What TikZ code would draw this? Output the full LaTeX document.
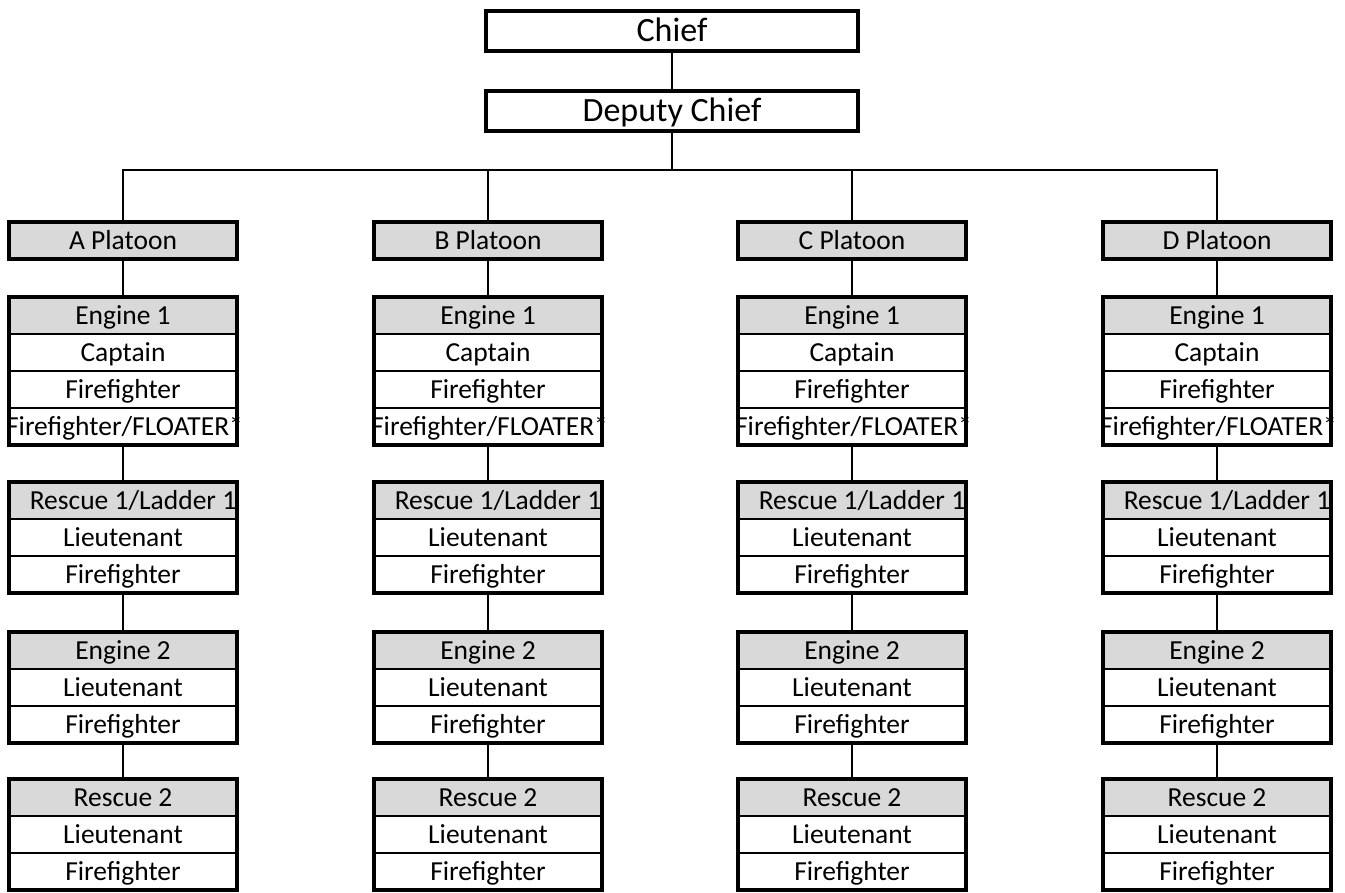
\documentclass[tikz,border=0pt]{standalone}
\usepackage{fontspec}
\setmainfont{Carlito}
\usetikzlibrary{fit}
\definecolor{hdrgray}{HTML}{D9D9D9}
\tikzset{
  rowfont/.style={font=\fontsize{27.5}{32}\selectfont, text height=20pt, text depth=2.3pt},
  rowbox/.style={draw=black, line width=1.5pt, minimum width=228pt, minimum height=37pt,
    inner sep=0pt, outer sep=0pt, anchor=north, rowfont},
  hdrbox/.style={rowbox, fill=hdrgray},
  overtext/.style={inner sep=0pt, rowfont},
  grpbox/.style={draw=black, line width=3.5pt, inner sep=0pt},
  platbox/.style={hdrbox, line width=3.5pt},
  topbox/.style={draw=black, line width=3.5pt, minimum width=372pt, minimum height=40pt,
    inner sep=0pt, font=\fontsize{34}{40}\selectfont, text height=24pt, text depth=2pt},
  link/.style={line width=2.8pt, line join=miter}
}
\begin{document}
\begin{tikzpicture}[x=1pt,y=-1pt]
\useasboundingbox (0,0) rectangle (1345,893);
\node[topbox] (chief) at (672,31) {Chief};
\node[topbox] (deputy) at (672,111) {Deputy Chief};
\coordinate (bar) at (672,170);
\draw[link] (chief) -- (deputy);
\draw[link] (deputy) -- (bar);
\foreach \c/\x in {A/123,B/488,C/852,D/1217} {
  \coordinate (\c-t) at (\x,170);
  \node[platbox] (\c-p) at (\x,222) {\c\ Platoon};
  % Engine 1
  \node[hdrbox] (\c-e1h) at (\x,297) {Engine 1};
  \node[rowbox] (\c-e1a) at (\x,334) {Captain};
  \node[rowbox] (\c-e1b) at (\x,371) {Firefighter};
  \node[rowbox] (\c-e1c) at (\x,408) {};
  \node[grpbox, fit=(\c-e1h)(\c-e1c)] (\c-e1) {};
  \node[overtext] (\c-e1ct) at ([xshift=1.5pt]\c-e1c.center) {Firefighter/FLOATER*};
  % Rescue 1 / Ladder 1
  \node[hdrbox] (\c-r1h) at (\x,482) {\makebox[0pt][c]{\hspace*{20pt}Rescue 1/Ladder 1}};
  \node[rowbox] (\c-r1a) at (\x,519) {Lieutenant};
  \node[rowbox] (\c-r1b) at (\x,556) {Firefighter};
  \node[grpbox, fit=(\c-r1h)(\c-r1b)] (\c-r1) {};
  % Engine 2
  \node[hdrbox] (\c-e2h) at (\x,632) {Engine 2};
  \node[rowbox] (\c-e2a) at (\x,669) {Lieutenant};
  \node[rowbox] (\c-e2b) at (\x,706) {Firefighter};
  \node[grpbox, fit=(\c-e2h)(\c-e2b)] (\c-e2) {};
  % Rescue 2
  \node[hdrbox] (\c-r2h) at (\x,779) {Rescue 2};
  \node[rowbox] (\c-r2a) at (\x,816) {Lieutenant};
  \node[rowbox] (\c-r2b) at (\x,853) {Firefighter};
  \node[grpbox, fit=(\c-r2h)(\c-r2b)] (\c-r2) {};
  % connectors
  \draw[link] (\c-p) -- (\c-e1);
  \draw[link] (\c-e1) -- (\c-r1);
  \draw[link] (\c-r1) -- (\c-e2);
  \draw[link] (\c-e2) -- (\c-r2);
}
\draw[link] (A-p.north) -- (A-t) -- (D-t) -- (D-p.north);
\draw[link] (B-t) -- (B-p.north);
\draw[link] (C-t) -- (C-p.north);
\end{tikzpicture}
\end{document}
